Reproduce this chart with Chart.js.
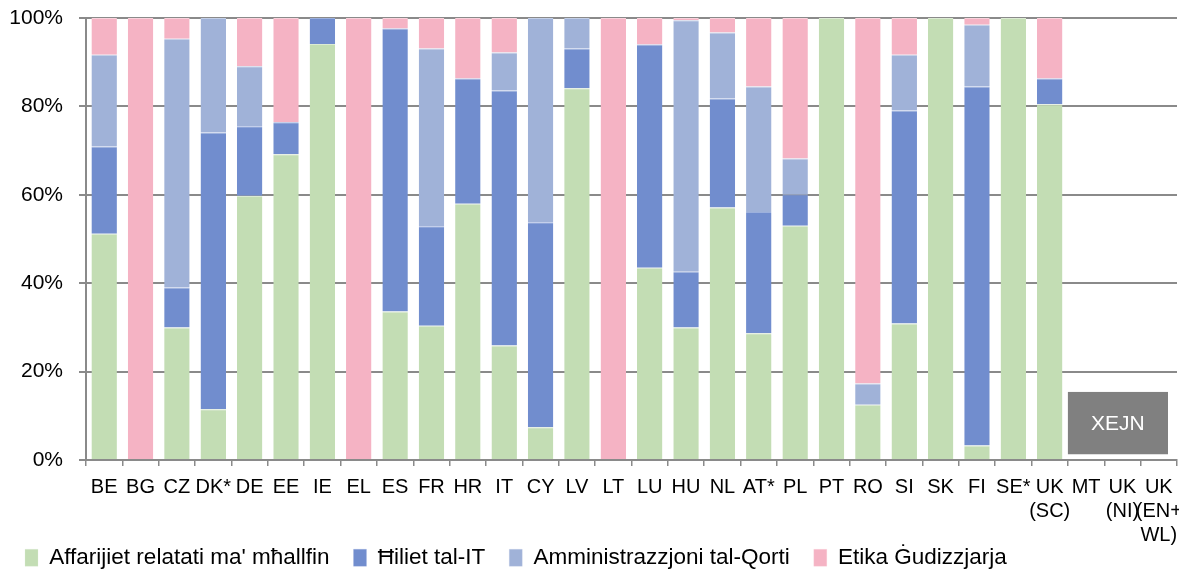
<!DOCTYPE html>
<html>
<head>
<meta charset="utf-8">
<script src="https://cdn.jsdelivr.net/npm/chart.js@4/dist/chart.umd.min.js"></script>
<style>
  html, body { margin: 0; padding: 0; background: #ffffff; }
  #wrap { width: 1179px; height: 572px; position: relative; }
</style>
</head>
<body>
<div id="wrap"><canvas id="chart" width="1179" height="572"></canvas></div>
<script>
// Countries / court systems along the x axis
const categories = ['BE','BG','CZ','DK*','DE','EE','IE','EL','ES','FR','HR','IT','CY','LV','LT','LU','HU','NL','AT*','PL','PT','RO','SI','SK','FI','SE*',['UK','(SC)'],'MT',['UK','(NI)'],['UK','(EN+','WL)']];

// Series names
const seriesNames = ["Affarijiet relatati ma' mħallfin", 'Ħiliet tal-IT', 'Amministrazzjoni tal-Qorti', 'Etika Ġudizzjarja'];

// Shares (%) per category; null = no data
const judgeAffairs = [51.2, 0, 30.0, 11.5, 59.8, 69.2, 94.1, 0, 33.6, 30.4, 58.0, 25.9, 7.4, 84.1, 0, 43.5, 30.0, 57.1, 28.7, 53.0, 100, 12.5, 30.9, 100, 3.3, 100, 80.5, null, null, null];
const itSkills     = [19.7, 0, 9.0, 62.6, 15.7, 7.2, 5.9, 0, 64.0, 22.5, 28.3, 57.7, 46.4, 9.0, 0, 50.5, 12.6, 24.7, 27.4, 7.1, 0, 0, 48.2, 0, 81.2, 0, 5.8, null, null, null];
const courtAdmin   = [20.8, 0, 56.3, 25.9, 13.6, 0, 0, 0, 0, 40.2, 0, 8.6, 46.2, 6.9, 0, 0, 56.9, 14.9, 28.4, 8.1, 0, 4.8, 12.6, 0, 14.0, 0, 0, null, null, null];
const ethics       = [8.3, 100, 4.7, 0, 10.9, 23.6, 0, 100, 2.4, 6.9, 13.7, 7.8, 0, 0, 100, 6.0, 0.5, 3.3, 15.5, 31.8, 0, 82.7, 8.3, 0, 1.5, 0, 13.7, null, null, null];

// Y axis ticks
const yTicks = [0, 20, 40, 60, 80, 100];

// Categories covered by the "no data" box
const noDataCategories = ['MT', 'UK (NI)', 'UK (EN+WL)'];
const noDataText = 'XEJN';

const colors = ['#C3DDB4', '#718DCE', '#A0B2D8', '#F5B3C4'];
const edgeColors = ['#DCEBD3', '#9CB0DD', '#C3CFE7', '#FAD2DC'];
const gridColor = '#8A8A8A';
const labelFont = '"Liberation Sans", Arial, sans-serif';

const seriesValues = [judgeAffairs, itSkills, courtAdmin, ethics];

// Grey "XEJN" box drawn over the empty categories at the right
const noDataBox = {
  id: 'noDataBox',
  afterDatasetsDraw(chart) {
    const {ctx, scales: {x, y}} = chart;
    const step = x.getPixelForValue(1) - x.getPixelForValue(0);
    const first = categories.length - noDataCategories.length;
    const left = x.getPixelForValue(first) - step / 2;
    const right = x.getPixelForValue(categories.length - 1) + step / 2 - 9;
    const top = y.getPixelForValue(15.4);
    const bottom = y.getPixelForValue(1.3);
    ctx.save();
    ctx.fillStyle = '#808080';
    ctx.fillRect(left, top, right - left, bottom - top);
    ctx.fillStyle = '#ffffff';
    ctx.font = '21px ' + labelFont;
    ctx.textAlign = 'center';
    ctx.textBaseline = 'middle';
    ctx.fillText(noDataText, (left + right) / 2, (top + bottom) / 2 + 1);
    ctx.restore();
  }
};

new Chart(document.getElementById('chart'), {
  type: 'bar',
  data: {
    labels: categories,
    datasets: seriesValues.map((vals, i) => ({
      label: seriesNames[i],
      data: vals,
      backgroundColor: colors[i],
      borderColor: edgeColors[i],
      borderWidth: {top: 1, left: 0, right: 0, bottom: 0},
      borderSkipped: 'start',
      barPercentage: 0.70,
      categoryPercentage: 1.0
    }))
  },
  options: {
    responsive: false,
    animation: false,
    devicePixelRatio: 1,
    layout: { padding: { left: 1, right: 2, top: 18, bottom: -7 } },
    plugins: {
      tooltip: { enabled: false },
      legend: {
        position: 'bottom',
        align: 'start',
        labels: {
          boxWidth: 13,
          boxHeight: 17,
          padding: 24,
          color: '#000000',
          font: { family: labelFont, size: 22.5 }
        }
      }
    },
    scales: {
      x: {
        stacked: true,
        offset: true,
        grid: {
          display: true,
          offset: true,
          drawOnChartArea: false,
          drawTicks: true,
          tickLength: 6,
          tickColor: gridColor,
          lineWidth: 1.5
        },
        border: { display: true, color: gridColor, width: 2 },
        ticks: {
          autoSkip: false,
          maxRotation: 0,
          minRotation: 0,
          padding: 9,
          color: '#000000',
          font: { family: labelFont, size: 20, lineHeight: 1.2 }
        },
        afterFit(scale) {
          scale.height = 62.5;
          scale.paddingLeft = 0;
          scale.paddingRight = 0;
          // let the three-line labels run below the axis box
          const area = scale._computeLabelArea;
          scale._computeLabelArea = function () {
            const a = area.call(this);
            if (a) a.bottom = this.chart.height;
            return a;
          };
        }
      },
      y: {
        stacked: true,
        min: 0,
        max: 100,
        afterBuildTicks(scale) { scale.ticks = yTicks.map(v => ({ value: v })); },
        grid: {
          color: gridColor,
          lineWidth: 2,
          drawTicks: true,
          tickLength: 7,
          tickColor: gridColor
        },
        border: { display: true, color: gridColor, width: 2 },
        ticks: {
          padding: 16,
          color: '#000000',
          font: { family: labelFont, size: 21 },
          callback: v => v + '%'
        },
        afterFit(scale) {
          scale.width = 85;
          scale.paddingTop = 0;
          scale.paddingBottom = 0;
        }
      }
    }
  },
  plugins: [noDataBox]
});
</script>
</body>
</html>
